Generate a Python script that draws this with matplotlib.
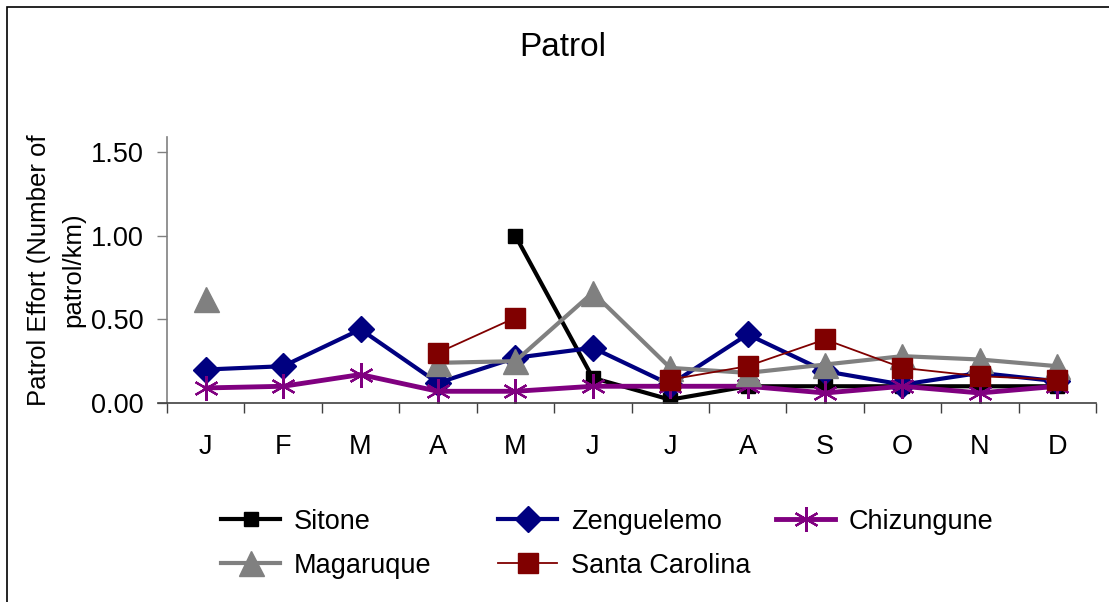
import numpy as np
import matplotlib
matplotlib.use("Agg")
import matplotlib.pyplot as plt
from matplotlib.patches import Rectangle

plt.rcParams['font.family'] = ['Liberation Sans', 'DejaVu Sans']

months = ['J', 'F', 'M', 'A', 'M', 'J', 'J', 'A', 'S', 'O', 'N', 'D']
nan = np.nan
sitone = [nan, nan, nan, nan, 1.00, 0.15, 0.02, 0.10, 0.10, 0.10, 0.10, 0.10]
zenguelemo = [0.20, 0.22, 0.44, 0.12, 0.27, 0.33, 0.11, 0.41, 0.19, 0.11, 0.18, 0.13]
chizungune = [0.09, 0.10, 0.17, 0.07, 0.07, 0.10, 0.10, 0.10, 0.06, 0.10, 0.06, 0.10]
magaruque = [0.62, nan, nan, 0.24, 0.25, 0.66, 0.21, 0.18, 0.23, 0.28, 0.26, 0.22]
santa_carolina = [nan, nan, nan, 0.30, 0.51, nan, 0.14, 0.22, 0.38, 0.21, 0.16, 0.14]

W, H = 1109, 602
fig = plt.figure(figsize=(W / 100, H / 100), dpi=100)
ax = fig.add_axes([167 / W, 1 - 403 / H, (1096 - 167) / W, (403 - 137) / H])

x = np.arange(len(months))

l1, = ax.plot(x, sitone, color='black', lw=3, marker='s', ms=9.5, label='Sitone')
l2, = ax.plot(x, zenguelemo, color='#000080', lw=3, marker='D', ms=13, label='Zenguelemo')
l3, = ax.plot(x, chizungune, color='#800080', lw=3.5, marker=(6, 2, 0), ms=18,
              mew=1.6, label='Chizungune')
l4, = ax.plot(x, magaruque, color='#808080', lw=3, marker='^', ms=18, label='Magaruque')
l5, = ax.plot(x, santa_carolina, color='#800000', lw=1.3, marker='s', ms=15,
              label='Santa Carolina')

ax.set_xlim(-0.5, 11.5)
ax.set_ylim(0, 1.59)
ax.set_yticks([0, 0.5, 1.0, 1.5])
ax.set_yticklabels(['0.00', '0.50', '1.00', '1.50'])
ax.set_xticks(x)
ax.set_xticklabels(months)
ax.set_xticks(np.arange(-0.5, 12, 1), minor=True)
ax.tick_params(axis='x', which='major', length=0, pad=22, labelsize=19.5)
ax.tick_params(axis='x', which='minor', length=7, width=1, color='#404040', direction='out')
ax.tick_params(axis='y', length=7, width=1, color='#808080', pad=10, labelsize=19.5)

for s in ['top', 'right']:
    ax.spines[s].set_visible(False)
ax.spines['left'].set_color('#808080')
ax.spines['bottom'].set_color('#404040')
ax.spines['bottom'].set_bounds(-0.5 - 9 / 77.4, 11.5)
ax.spines['left'].set_linewidth(1.2)
ax.spines['bottom'].set_linewidth(1.2)

ax.set_ylabel('Patrol Effort (Number of\npatrol/km)', fontsize=18.5, labelpad=4,
              linespacing=1.5)

fig.text(563 / W, 1 - 48 / H, 'Patrol', fontsize=24, ha='center', va='center')

# legend in three fixed-width columns, like Excel
cols = [([l1, l4], 210), ([l2, l5], 487), ([l3], 765)]
for handles, px in cols:
    leg = fig.legend(handles=handles, labels=[h.get_label() for h in handles],
                     loc='upper left', bbox_to_anchor=(px / W, 1 - 498 / H),
                     frameon=False, fontsize=19.5, handlelength=2.2,
                     handletextpad=0.5, labelspacing=0.66, borderaxespad=0)

fig.patches.append(Rectangle((7 / W, -0.05), 1.2, 1 - 7 / H + 0.05,
                             transform=fig.transFigure, fill=False,
                             edgecolor='black', lw=1.2))

fig.savefig('out.png', dpi=100)
